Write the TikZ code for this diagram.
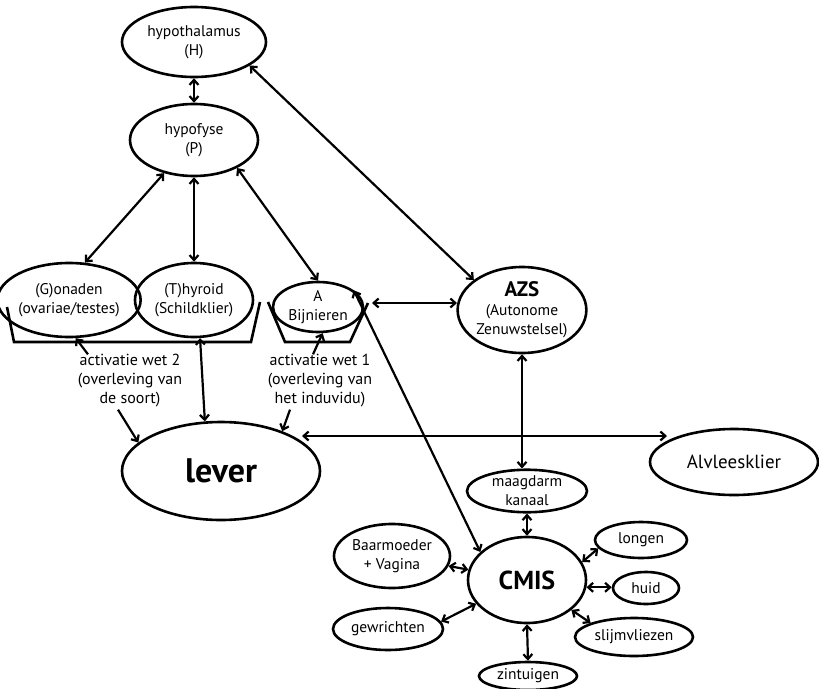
\documentclass[tikz,border=0pt]{standalone}
\usepackage{fontspec}
\setmainfont{PT Sans}
\usetikzlibrary{shapes.geometric,arrows.meta,calc}
\newcommand{\fsn}{\fontsize{15.5}{19}\selectfont}
\begin{document}
\begin{tikzpicture}[x=1pt,y=-1pt,
  ell/.style={ellipse, draw, line width=2.6pt, inner sep=0pt, align=center, font=\fsn},
  arr/.style={line width=2.2pt, {Straight Barb[length=5pt,width=9pt]}-{Straight Barb[length=5pt,width=9pt]}},
  sarr/.style={line width=2.2pt, -{Straight Barb[length=5pt,width=9pt]}},
  lbl/.style={align=center, font=\fontsize{16}{19}\selectfont, inner sep=0pt},
  brk/.style={line width=2.6pt}]
\useasboundingbox (0,0) rectangle (819,688);
% nodes
\node[ell, minimum width=144, minimum height=70] (H) at (194,42) {hypothalamus\\(H)};
\node[ell, minimum width=128, minimum height=72] (P) at (194,140) {hypofyse\\(P)};
\node[ell, minimum width=118, minimum height=74] (G) at (69,300) {(G)onaden\\(ovariae/testes)};
\node[ell, minimum width=118, minimum height=74] (T) at (194,300) {(T)hyroid\\(Schildklier)};
\node[ell, minimum width=90, minimum height=50] (B) at (318,307) {A\\Bijnieren};
\node[ell, minimum width=124, minimum height=86] (AZS) at (522,310) {{\fontsize{21}{22}\selectfont\bfseries AZS}\\(Autonome\\Zenuwstelsel)};
\node[ell, minimum width=198, minimum height=98, font=\fontsize{34}{36}\selectfont\bfseries] (lever) at (221,471) {lever};
\node[ell, minimum width=168, minimum height=66, font=\fontsize{19}{22}\selectfont] (Alv) at (734,462) {Alvleesklier};
\node[ell, minimum width=120, minimum height=42] (MD) at (527,491) {maagdarm\\kanaal};
\node[ell, minimum width=118, minimum height=86, font=\fontsize{26}{28}\selectfont\bfseries] (CMIS) at (527,580) {CMIS};
\node[ell, minimum width=116, minimum height=64] (Baar) at (392,556) {Baarmoeder\\+ Vagina};
\node[ell, minimum width=110, minimum height=42] (gew) at (388,629) {gewrichten};
\node[ell, minimum width=98, minimum height=28] (zin) at (528,676) {zintuigen};
\node[ell, minimum width=92, minimum height=36] (longen) at (641,540) {longen};
\node[ell, minimum width=66, minimum height=32] (huid) at (646,588) {huid};
\node[ell, minimum width=118, minimum height=38] (slijm) at (634,637) {slijmvliezen};
% labels
\node[lbl] (w2) at (130,381) {activatie wet 2\\(overleving van\\de soort)};
\node[lbl] (w1) at (320,381) {activatie wet 1\\(overleving van\\het induvidu)};
% brackets
\draw[brk] (7,307) -- (14,342) -- (251,342) -- (260,302);
\draw[brk] (268,302) -- (285,342) -- (350,342) -- (368,303);
% free ends
\coordinate (lvR) at (302,436);
\coordinate (alvL) at (667,436);
\coordinate (bR) at (372,303);
\coordinate (azsL) at (457,303);
% connectors
\draw[arr] (H.south) -- (P.north);
\draw[arr] (P.228) -- (G.67);
\draw[arr] (P.south) -- (T.north);
\draw[arr] (P.327) -- (B.north);
\draw[arr] (H.337) -- (AZS.148);
\draw[arr] (bR) -- (azsL);
\draw[arr] (AZS.south) -- (AZS.south |- MD.north);
\draw[arr] (lvR) -- (alvL);
\draw[arr] (T.-81) -- (lever.108);
\draw[sarr] ([xshift=-42pt]w2.north) -- (G.-80);
\draw[sarr] ([xshift=-12pt,yshift=-2pt]w2.south) -- (lever.161);
\draw[sarr] ([xshift=-7pt]w1.north) -- (B.-80);
\draw[sarr] ([xshift=-30pt,yshift=-2pt]w1.south) -- (lever.33);
\draw[arr] (B.25) -- (CMIS.149);
\draw[arr] (MD.south) -- (CMIS.north);
\draw[arr] (Baar.-10) -- (CMIS.170);
\draw[arr] (gew.8) -- (CMIS.205);
\draw[arr] (CMIS.south) -- (zin.north);
\draw[arr] (CMIS.18) -- (longen.191);
\draw[arr] (CMIS.-7) -- (CMIS.-7 -| huid.west);
\draw[arr] (CMIS.-34) -- (slijm.162);
\end{tikzpicture}
\end{document}
